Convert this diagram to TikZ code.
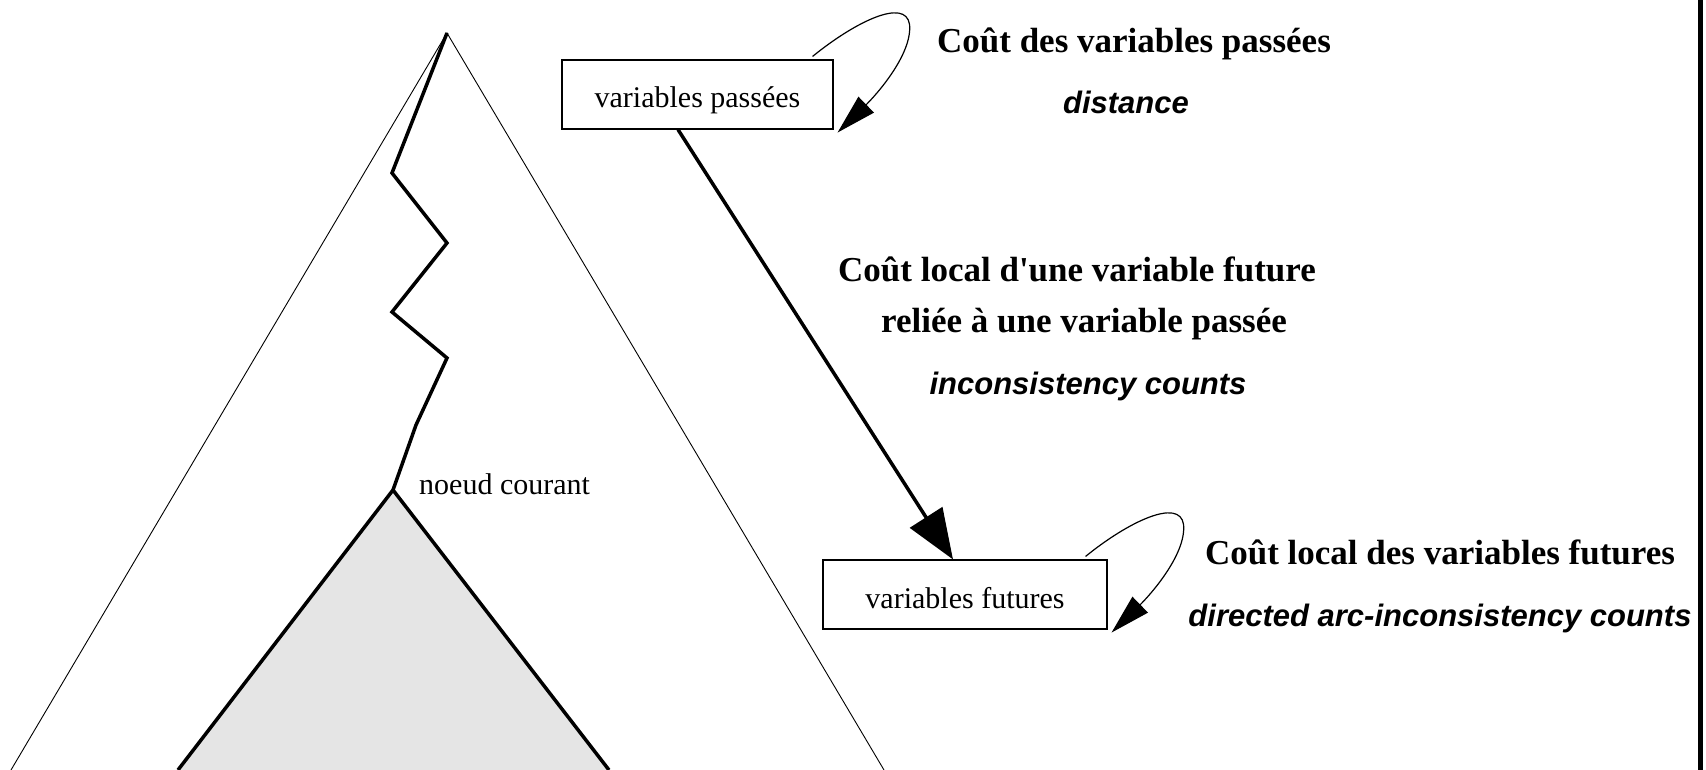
\documentclass[tikz,border=0pt]{standalone}
\usepackage{fontspec}
\setmainfont{Liberation Serif}
\newfontfamily\hv{Liberation Sans}
\usetikzlibrary{arrows.meta,calc}
\definecolor{shadegray}{HTML}{E5E5E5}
\begin{document}
\begin{tikzpicture}[x=1pt,y=-1pt,
  thinline/.style={line width=0.9pt},
  boldline/.style={line width=3.5pt, line join=miter},
  varbox/.style={draw, line width=1.1pt, inner sep=0pt, font=\fontsize{30}{34}\selectfont, text height=29pt, text depth=2pt, minimum height=69pt},
  title/.style={inner sep=0pt, font=\fontsize{35}{40}\selectfont\bfseries},
  sub/.style={inner sep=0pt, font=\hv\fontsize{31}{36}\selectfont\bfseries\itshape},
  plain/.style={inner sep=0pt, font=\fontsize{30}{34}\selectfont},
  looparrow/.style={line width=1.2pt, -{Triangle[length=40pt,width=22pt]}},
  mainarrow/.style={line width=3.5pt, -{Triangle[length=50pt,width=38pt]}},
]
\useasboundingbox (0,0) rectangle (1706,770);
% big search tree
\coordinate (root) at (447,33);
\coordinate (bl) at (11,770);
\coordinate (br) at (884,770);
\draw[thinline] (bl) -- (root) -- (br);
% shaded subtree
\coordinate (cur) at (393,490);
\coordinate (sl) at (178,770);
\coordinate (sr) at (609,770);
\fill[shadegray] (sl) -- (cur) -- (sr) -- cycle;
\draw[boldline] (sl) -- (cur) -- (sr);
% current branch
\draw[boldline] (root) -- (392,173) -- (447,243) -- (392,312) -- (447,358) -- (416,425) -- (cur);
\node[plain, anchor=west] (curlabel) at (419,484) {noeud courant};
% boxes
\node[varbox, minimum width=271pt] (past) at (697.5,94.5) {variables passées};
\node[varbox, minimum width=284pt] (future) at (965,594.5) {variables futures};
% arrows
\draw[mainarrow] ($(past.south)+(-19.5,0)$) -- ($(future.north)+(-12,0)$);
\draw[looparrow] ($(past.north east)+(-21,-3)$) .. controls +(43,-35) and +(-4,-27) .. ($(past.north east)+(76,-35)$) .. controls +(3,30) and +(38,-37) .. ($(past.south east)+(4,3)$);
\draw[looparrow] ($(future.north east)+(-22,-3)$) .. controls +(43,-35) and +(-4,-27) .. ($(future.north east)+(76,-35)$) .. controls +(3,30) and +(38,-37) .. ($(future.south east)+(4,3)$);
% texts
\node[title] (t1) at (1134,44) {Coût des variables passées};
\node[sub] (s1) at (1126,102) {distance};
\node[title] (t2a) at (1077,269) {Coût local d\textquotesingle une variable future};
\node[title] (t2b) at (1084,324) {reliée à une variable passée};
\node[sub] (s2) at (1088,386) {inconsistency counts};
\node[title] (t3) at (1440,552) {Coût local des variables futures};
\node[sub] (s3) at (1440,618) {directed arc-inconsistency counts};
% right border
\fill (1698,0) rectangle (1703,770);
\end{tikzpicture}
\end{document}
